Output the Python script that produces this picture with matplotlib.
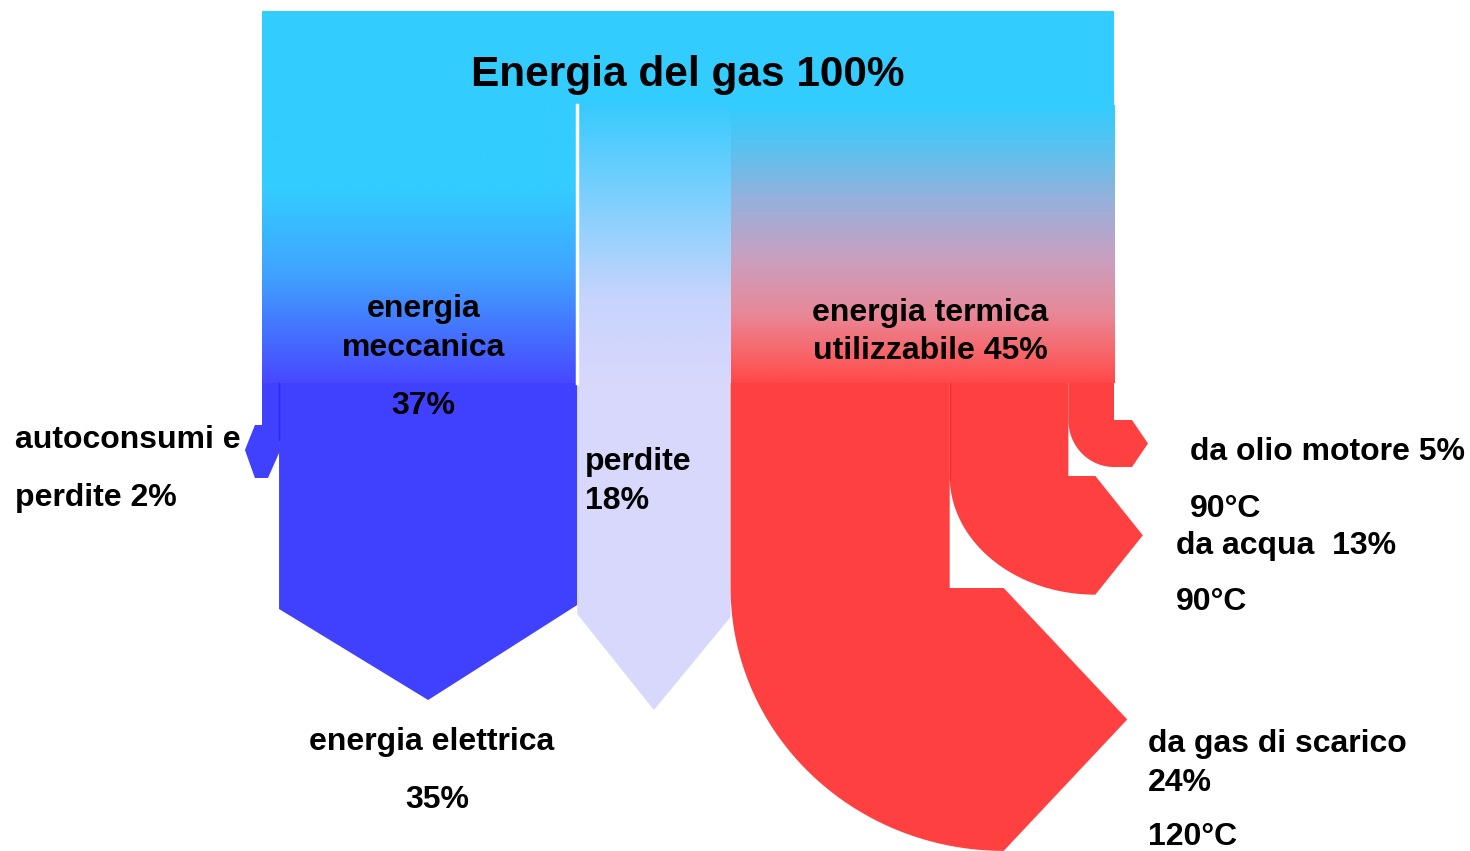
import numpy as np
import matplotlib
matplotlib.use('Agg')
import matplotlib.pyplot as plt
from matplotlib.colors import LinearSegmentedColormap
from matplotlib.patches import Polygon, Rectangle

# bilancio energetico del cogeneratore (percentuali)
totale = 100
rami_val = [37, 18, 45]            # meccanica, perdite, termica
mecc_nomi = ['autoconsumi e', 'energia elettrica']
mecc_val = [2, 35]
term_nomi = ['da gas di scarico', 'da acqua ', 'da olio motore']
term_val = [24, 13, 5]
term_temp = ['120°C', '90°C', '90°C']

# colori
CIANO = '#33CCFF'
BLU = '#4040FF'
LAVANDA = '#D8D8FC'
ROSSO = '#FF4040'

# impaginazione (pixel)
X0, X1 = 262, 1114
Y_TOP, Y_BAR, Y_SPLIT = 11, 105, 383
scala = (X1 - X0) / totale

fig = plt.figure(figsize=(14.7, 8.51), dpi=100)
ax = fig.add_axes([0, 0, 1, 1])
plt.rcParams['font.family'] = ['Liberation Sans', 'DejaVu Sans']
FS = 23

# barra in alto
ax.add_patch(Rectangle((X0, Y_TOP), X1 - X0, Y_BAR - Y_TOP, color=CIANO, lw=0))
ax.text((X0 + X1) / 2, 86, 'Energia del gas %d%%' % totale, ha='center',
        va='baseline', fontsize=30.5, fontweight='bold')

bordi = X0 + scala * np.cumsum([0] + rami_val)

# colonne sfumate
sfumature = [
    [(0, CIANO), (0.3, CIANO), (0.6, '#40A4FF'), (1, '#4848FF')],
    [(0, '#38CAFD'), (0.35, '#80D0FE'), (0.7, '#C8D4FC'), (1, LAVANDA)],
    [(0, CIANO), (0.15, '#58C2F0'), (0.35, '#98B0DA'), (0.55, '#C8A0C0'),
     (0.75, '#E88898'), (0.9, '#F86468'), (1, '#FF4848')],
]
grad = np.linspace(0, 1, 256).reshape(-1, 1)
for i, stops in enumerate(sfumature):
    cmap = LinearSegmentedColormap.from_list('c%d' % i, stops)
    ax.imshow(grad, cmap=cmap, aspect='auto', interpolation='bilinear',
              extent=(bordi[i], bordi[i + 1], Y_SPLIT, Y_BAR), zorder=1)
ax.plot([bordi[1], bordi[1]], [Y_BAR, Y_SPLIT], color='white', lw=2.5, zorder=2)

# ramo meccanico: autoconsumi + energia elettrica
mb = bordi[0] + (bordi[1] - bordi[0]) * np.cumsum([0] + mecc_val) / sum(mecc_val)
xl, xr = mb[0], mb[1]
s = (xr - xl) * 1.3
ax.add_patch(Polygon([(xl, Y_SPLIT), (xr, Y_SPLIT), (xr, 453), (xl + 0.27 * s, 478),
                      (xl - 0.32 * s, 478), (xl - 0.77 * s, 450),
                      (xl - 0.32 * s, 425), (xl, 425)], color=BLU, lw=0))
xl, xr = mb[1], mb[2]
ax.add_patch(Polygon([(xl, Y_SPLIT), (xr, Y_SPLIT), (xr, 605), ((xl + xr) / 2, 700),
                      (xl, 609)], color=BLU, lw=0))
ax.plot([mb[1], mb[1]], [Y_SPLIT, 440], color='#2828FF', lw=1)

# perdite
xl, xr = bordi[1], bordi[2]
ax.add_patch(Polygon([(xl, Y_SPLIT), (xr, Y_SPLIT), (xr, 617), ((xl + xr) / 2, 710),
                      (xl, 614)], color=LAVANDA, lw=0))

# ramo termico: gas di scarico, acqua, olio
tb = bordi[2] + (bordi[3] - bordi[2]) * np.cumsum([0] + term_val) / sum(term_val)
giro_y = [588, 476, 420]
spost = [54, 27, 0]
prolung = [0, 0, 18]
k_alt = [1.2, 1.0, 1.03]
k_punta = [0.47, 0.40, 0.34]
for i in range(len(term_val)):
    xl, xr = tb[i], tb[i + 1]
    w = xr - xl
    cx = xr + spost[i]
    rx = cx - xl
    ry = w * k_alt[i]
    yt = giro_y[i]
    t = np.linspace(0, np.pi / 2, 80)
    arco = list(zip(cx - rx * np.cos(t), yt + ry * np.sin(t)))
    xa = cx + prolung[i]
    pts = [(xr, Y_SPLIT), (xl, Y_SPLIT)] + arco + [
        (xa, yt + ry), (xa + ry * k_punta[i], yt + ry / 2), (xa, yt), (xr, yt)]
    ax.add_patch(Polygon(pts, color=ROSSO, lw=0))
ax.plot([tb[1], tb[1]], [Y_SPLIT, 480], color='#FF2828', lw=1)

# etichette
tk = dict(fontsize=FS, fontweight='bold', va='baseline')
cm = (bordi[0] + bordi[1]) / 2 + 4
ax.text(cm, 317, 'energia', ha='center', **tk)
ax.text(cm, 356, 'meccanica', ha='center', **tk)
ax.text(cm, 414, '%d%%' % rami_val[0], ha='center', **tk)
ct = (bordi[2] + bordi[3]) / 2 + 8
ax.text(ct, 321, 'energia termica', ha='center', **tk)
ax.text(ct, 359, 'utilizzabile %d%%' % rami_val[2], ha='center', **tk)
ax.text(bordi[1] + 8, 470, 'perdite', ha='left', **tk)
ax.text(bordi[1] + 8, 509, '%d%%' % rami_val[1], ha='left', **tk)

ax.text(15, 448, mecc_nomi[0], ha='left', **tk)
ax.text(15, 506, 'perdite %d%%' % mecc_val[0], ha='left', **tk)
ax.text(432, 750, mecc_nomi[1], ha='center', **tk)
ax.text(437, 808, '%d%%' % mecc_val[1], ha='center', **tk)

ax.text(1190, 460, '%s %d%%' % (term_nomi[2], term_val[2]), ha='left', **tk)
ax.text(1190, 517, term_temp[2], ha='left', **tk)
ax.text(1176, 554, '%s %d%%' % (term_nomi[1], term_val[1]), ha='left', **tk)
ax.text(1176, 610, term_temp[1], ha='left', **tk)
ax.text(1148, 752, term_nomi[0], ha='left', **tk)
ax.text(1148, 791, '%d%%' % term_val[0], ha='left', **tk)
ax.text(1148, 845, term_temp[0], ha='left', **tk)

ax.set_xlim(0, 1470)
ax.set_ylim(851, 0)
ax.axis('off')
fig.savefig('out.png', dpi=100)
